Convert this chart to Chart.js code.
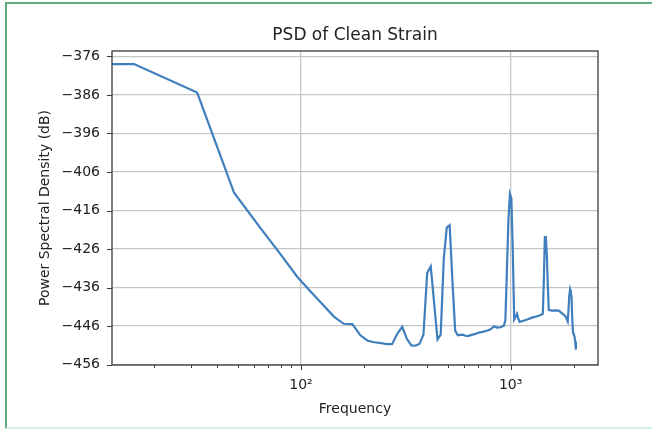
<!DOCTYPE html>
<html>
<head>
<meta charset="utf-8">
<script src="https://cdn.jsdelivr.net/npm/chart.js@4/dist/chart.umd.min.js"></script>
<style>
  html, body { margin: 0; padding: 0; background: #ffffff; }
  #wrap { position: relative; width: 652px; height: 429px; overflow: hidden; }
  #frame {
    position: absolute; left: 5px; top: 2px; width: 670px; height: 423px;
    border-top: 2px solid #5fae80; border-left: 2px solid #5fae80;
    border-bottom: 2px solid #d3eee2; pointer-events: none;
  }
</style>
</head>
<body>
<div id="wrap">
  <canvas id="chart" width="652" height="429"></canvas>
  <div id="frame"></div>
</div>
<script>
// frequency bins (Hz); the first one stands in for the DC bin, which sits off the left edge
const freqHz = [8, 16, 32, 48, 64, 80, 96, 112, 128, 144, 160, 176, 192, 208, 224, 240, 256, 272, 288, 304,
  320, 336, 352, 368, 384, 400, 416, 432, 448, 464, 480, 496, 512, 528, 544, 560, 576, 592, 608, 624,
  640, 672, 704, 736, 768, 800, 832, 864, 896, 928, 944, 960, 976, 992, 1008, 1024, 1040, 1056, 1072, 1088,
  1104, 1152, 1200, 1264, 1328, 1392, 1424, 1440, 1456, 1472, 1488, 1504, 1520, 1568, 1632, 1696, 1760, 1824, 1872, 1888,
  1904, 1920, 1936, 1952, 1968, 1984, 2000, 2016, 2032, 2048];
const psdDb = [-378, -378, -385.4, -411.4, -420.5, -427.4, -433.2, -437.2, -440.6, -443.6, -445.4, -445.5, -448.4, -449.8, -450.2, -450.4, -450.7, -450.7, -448.0, -446.2,
  -449.3, -451.0, -451.1, -450.6, -448.2, -432.2, -430.5, -440.2, -449.5, -448.2, -428.5, -420.4, -419.8, -434.5, -447.2, -448.4, -448.3, -448.2, -448.5, -448.6,
  -448.4, -448.1, -447.7, -447.5, -447.2, -446.9, -446.1, -446.4, -446.3, -445.9, -444.5, -431.4, -418.5, -411.7, -412.8, -426.7, -444.3, -443.6, -442.8, -444.1,
  -444.9, -444.6, -444.3, -443.8, -443.5, -443.1, -442.8, -434.0, -422.9, -422.9, -427.5, -435.3, -441.8, -442.0, -441.9, -442.0, -442.7, -443.4, -444.8, -441.8,
  -438.1, -436.6, -437.5, -438.4, -444.4, -447.7, -448.2, -448.7, -450.0, -452.1];

const xTicks = [20, 30, 40, 50, 60, 70, 80, 90, 100, 200, 300, 400, 500, 600, 700, 800, 900, 1000, 2000];
const xMajor = { 100: '10\u00b2', 1000: '10\u00b3' };
const yTicks = [-456, -446, -436, -426, -416, -406, -396, -386, -376];

const FONT = 'DejaVu Sans';
const GRID = '#c6c6c6';
const SPINE = '#3a3a3a';

const tickMarks = {
  id: 'tickMarks',
  afterDraw(chart) {
    const { ctx, chartArea: a, scales: { x, y } } = chart;
    ctx.save();
    ctx.strokeStyle = SPINE;
    ctx.lineWidth = 1;
    ctx.beginPath();
    x.ticks.forEach(t => {
      const px = Math.round(x.getPixelForValue(t.value)) + 0.5;
      const len = xMajor[t.value] ? 5 : 3;
      ctx.moveTo(px, a.bottom);
      ctx.lineTo(px, a.bottom + len);
    });
    y.ticks.forEach(t => {
      const py = Math.round(y.getPixelForValue(t.value)) + 0.5;
      ctx.moveTo(a.left - 5, py);
      ctx.lineTo(a.left, py);
    });
    ctx.stroke();
    ctx.lineWidth = 1.3;
    ctx.strokeRect(a.left, a.top, a.right - a.left, a.bottom - a.top);
    ctx.restore();
  }
};

new Chart(document.getElementById('chart'), {
  type: 'line',
  data: {
    datasets: [{
      xAxisID: 'x',
      yAxisID: 'y',
      data: freqHz.map((f, i) => ({ x: f, y: psdDb[i] })),
      borderColor: '#3f7fbd',
      borderWidth: 2.2,
      pointRadius: 0,
      tension: 0,
      fill: false
    }]
  },
  options: {
    responsive: false,
    animation: false,
    devicePixelRatio: 1,
    layout: { padding: { left: 0, right: 54, top: 0, bottom: 0 } },
    plugins: {
      legend: { display: false },
      tooltip: { enabled: false },
      title: { display: false }
    },
    scales: {
      // empty axis on top, only there so the title centres over the plot area
      top: {
        type: 'linear',
        position: 'top',
        afterFit: s => { s.height = 51; },
        ticks: { display: false },
        grid: { display: false },
        border: { display: false },
        title: {
          display: true,
          text: 'PSD of Clean Strain',
          color: '#222',
          font: { family: FONT, size: 17, weight: 'normal' },
          padding: { top: 25, bottom: 0 }
        }
      },
      x: {
        type: 'logarithmic',
        min: 12.56,
        max: 2610,
        afterBuildTicks: s => { s.ticks = xTicks.map(v => ({ value: v, major: !!xMajor[v] })); },
        afterFit: s => { s.height = 64; },
        ticks: {
          autoSkip: false,
          maxRotation: 0,
          padding: 12,
          color: '#222',
          font: { family: FONT, size: 14 },
          callback: v => xMajor[v] || ''
        },
        grid: {
          drawTicks: false,
          lineWidth: 1.3,
          color: c => (c.tick && xMajor[c.tick.value]) ? GRID : 'rgba(0,0,0,0)'
        },
        border: { display: false },
        title: {
          display: true,
          text: 'Frequency',
          color: '#222',
          font: { family: FONT, size: 14 },
          padding: { top: 0, bottom: 11 }
        }
      },
      y: {
        type: 'linear',
        min: -456.1,
        max: -374.6,
        afterBuildTicks: s => { s.ticks = yTicks.map(v => ({ value: v })); },
        afterFit: s => { s.width = 112; },
        ticks: {
          padding: 12,
          color: '#222',
          font: { family: FONT, size: 14 },
          callback: v => String(v).replace('-', '\u2212')
        },
        grid: { drawTicks: false, lineWidth: 1.3, color: GRID },
        border: { display: false },
        title: {
          display: true,
          text: 'Power Spectral Density (dB)',
          color: '#222',
          font: { family: FONT, size: 14 },
          padding: { top: 37, bottom: 0 }
        }
      }
    }
  },
  plugins: [tickMarks]
});
</script>
</body>
</html>
